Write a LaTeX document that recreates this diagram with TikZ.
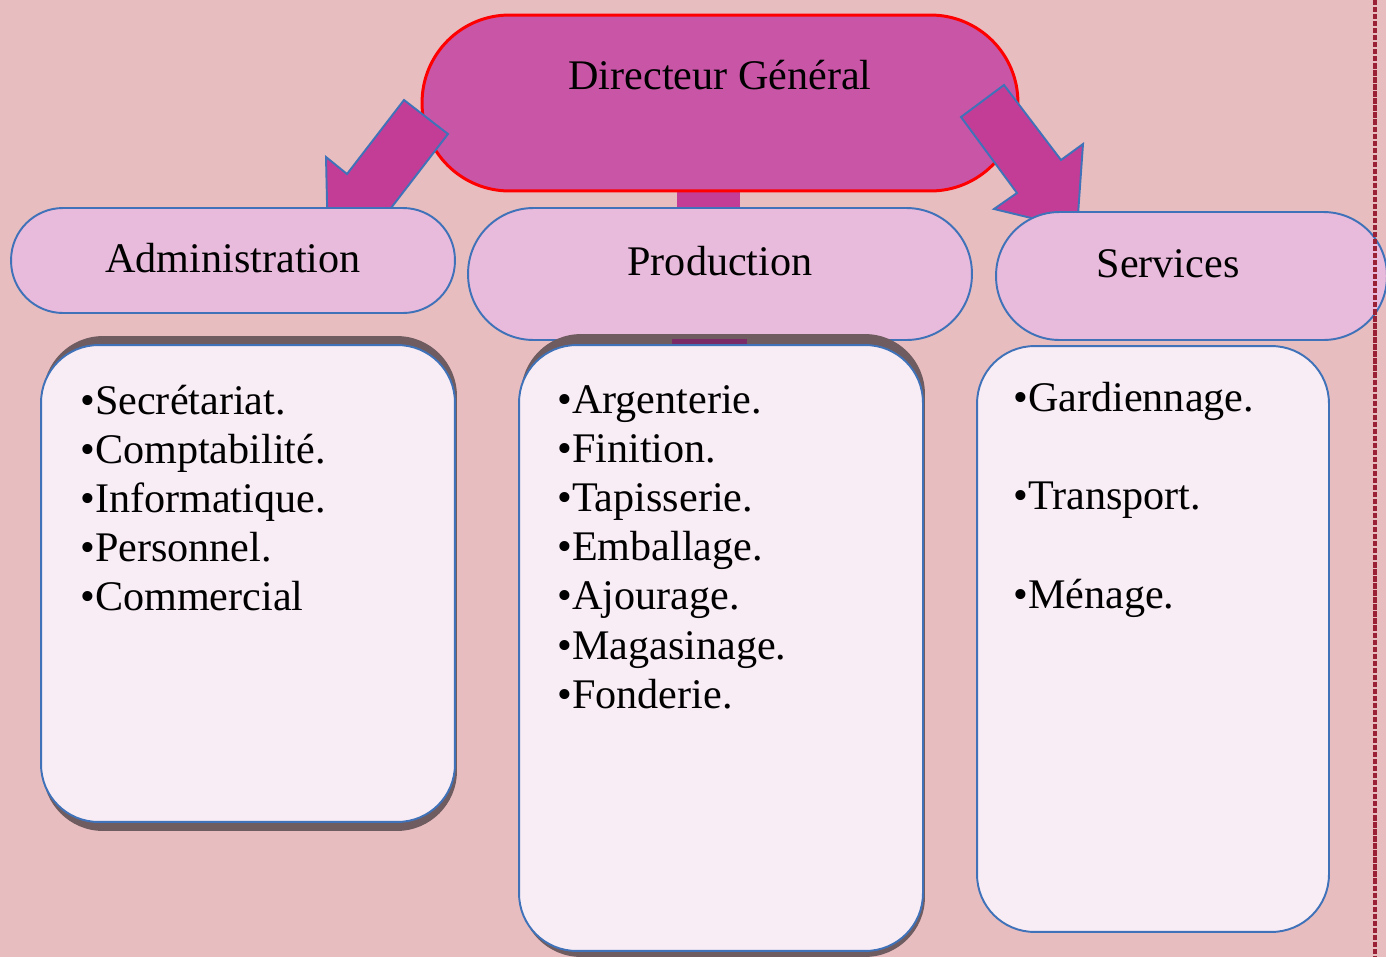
\documentclass[tikz,border=0pt]{standalone}
\usepackage{fontspec}
\setmainfont{Liberation Serif}
\usepackage{xcolor}
\definecolor{fond}{HTML}{E8BDC0}
\definecolor{dgfill}{HTML}{C955A6}
\definecolor{fleche}{HTML}{C33D97}
\definecolor{entete}{HTML}{E8BADB}
\definecolor{liste}{HTML}{F8ECF5}
\definecolor{bord}{HTML}{3F72B8}
\definecolor{ombre}{HTML}{6F5C60}
\definecolor{tige}{HTML}{7A2A66}
\definecolor{pointille}{HTML}{9A2035}

\begin{document}
\begin{tikzpicture}[x = 0.02cm, y = -0.02cm,
  txt/.style = {font = \fontsize{24}{28}\selectfont, inner sep = 0pt},
  item/.style = {txt, anchor = base west},
  dgbox/.style = {fill = dgfill, draw = red, line width = 1.7pt, rounded corners = 1.75cm},
  entetebox/.style = {fill = entete, draw = bord, line width = 1.1pt},
  listebox/.style = {fill = liste, draw = bord, line width = 1.1pt, rounded corners = 1.15cm},
  ombrebox/.style = {fill = ombre, rounded corners = 1.2cm},
  blocfleche/.style = {fill = fleche, draw = bord, line width = 1.1pt, line join = miter}]
\useasboundingbox (0,0) rectangle (1386,957);
\fill[fond] (0,0) rectangle (1386,957);
% tige entre directeur et production
\fill[fleche] (677,180) rectangle (740,212);
% directeur
\node[dgbox, minimum width = 11.92cm, minimum height = 3.52cm] (dg) at (720,103) {};
\node[txt] (dgtxt) at (720,75) {Directeur Général};
% fleches
\draw[blocfleche] (404,100) -- (448,134) -- (391,208) -- (412,224) -- (328,246) -- (326,157) -- (347,174) -- cycle;
\draw[blocfleche] (1004,85) -- (961,117) -- (1017,193) -- (994,209) -- (1077,229) -- (1083,144) -- (1061,160) -- cycle;
% entetes
\node[entetebox, rounded corners = 1.04cm, minimum width = 8.88cm, minimum height = 2.1cm] (adm) at (233,260.5) {};
\node[entetebox, rounded corners = 1.31cm, minimum width = 10.08cm, minimum height = 2.64cm] (prod) at (720,274) {};
\node[entetebox, rounded corners = 1.27cm, minimum width = 7.82cm, minimum height = 2.56cm] (serv) at (1191.5,276) {};
\node[txt] (admtxt) at (233,258) {Administration};
\node[txt] (prodtxt) at (720,261) {Production};
\node[txt] (servtxt) at (1168,264) {Services};
% listes
\node[ombrebox, minimum width = 8.28cm, minimum height = 9.9cm] (admombre) at (250,583.5) {};
\node[ombrebox, minimum width = 8.08cm, minimum height = 12.46cm] (prodombre) at (723,645.5) {};
\fill[tige] (672,339) rectangle (747,346);
\node[listebox, minimum width = 8.28cm, minimum height = 9.54cm] (admliste) at (248,583.5) {};
\node[listebox, minimum width = 8.08cm, minimum height = 12.12cm] (prodliste) at (721,648) {};
\node[listebox, minimum width = 7.04cm, minimum height = 11.72cm] (servliste) at (1153,639) {};
\foreach \t [count = \i from 0] in {Secrétariat., Comptabilité., Informatique., Personnel., Commercial}
  \node[item] (adm\i) at (80,{414+49.2*\i}) {•\t};
\foreach \t [count = \i from 0] in {Argenterie., Finition., Tapisserie., Emballage., Ajourage., Magasinage., Fonderie.}
  \node[item] (prod\i) at (557,{413+49.2*\i}) {•\t};
\foreach \t [count = \i from 0] in {Gardiennage., Transport., Ménage.}
  \node[item] (serv\i) at (1013,{411+98.5*\i}) {•\t};
% bord pointille
\coordinate (bordhaut) at (1375,0);
\coordinate (bordbas) at (1375,957);
\draw[pointille, line width = 0.08cm, dash pattern = on 3pt off 1pt] (bordhaut) -- (bordbas);
\end{tikzpicture}
\end{document}
